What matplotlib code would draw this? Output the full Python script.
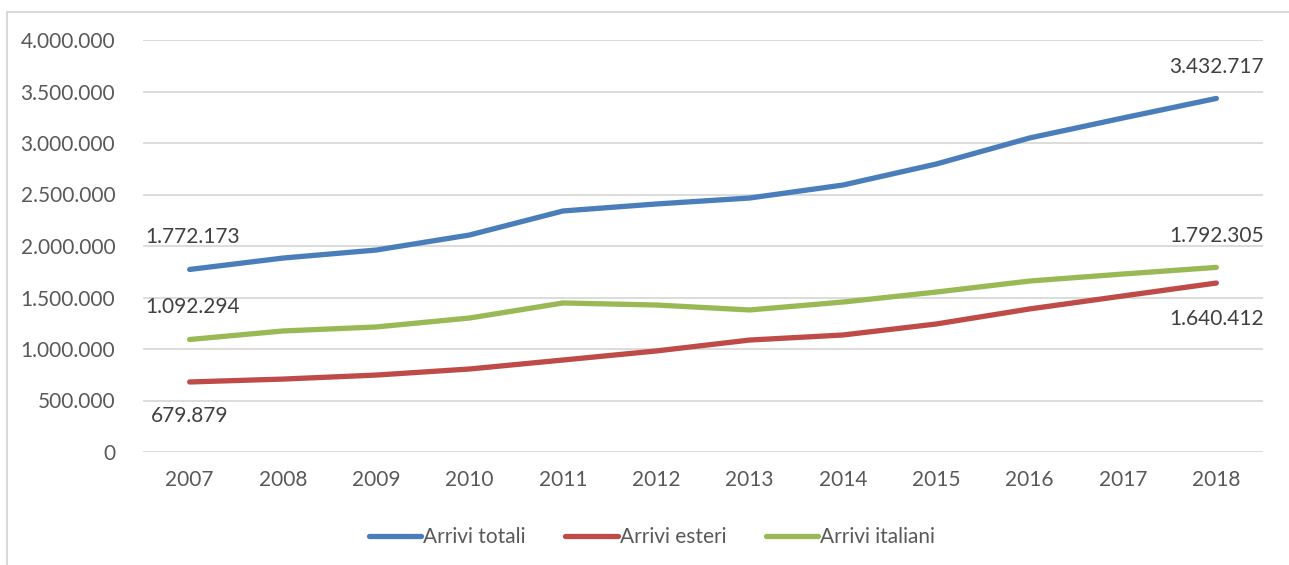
import matplotlib.pyplot as plt
from matplotlib.patches import Rectangle
from matplotlib.ticker import FuncFormatter

plt.rcParams['font.family'] = ['Lato', 'DejaVu Sans']

# Arrivi turistici per anno
anni = [2007, 2008, 2009, 2010, 2011, 2012, 2013, 2014, 2015, 2016, 2017, 2018]
arrivi_totali = [1772173, 1883000, 1961000, 2107000, 2340000, 2408000,
                 2466000, 2592000, 2796000, 3049000, 3243000, 3432717]
arrivi_esteri = [679879, 708000, 747000, 806000, 893000, 981000,
                 1087000, 1136000, 1243000, 1389000, 1515000, 1640412]
arrivi_italiani = [1092294, 1175000, 1214000, 1301000, 1447000, 1427000,
                   1379000, 1456000, 1553000, 1660000, 1728000, 1792305]


def fmt_it(v, pos=None):
    return f"{int(round(v)):,}".replace(",", ".")


fig = plt.figure(figsize=(12.89, 5.65), dpi=100)
fig.patches.append(Rectangle((7 / 1289, -0.1), 1.2, 1.1 - 12 / 565,
                             transform=fig.transFigure, fill=False,
                             edgecolor="#d9d9d9", linewidth=1.5))

ax = fig.add_axes([143 / 1289, 1 - 452 / 565, (1263 - 143) / 1289, 412 / 565])

series = [
    (arrivi_totali, "Arrivi totali", "#4a7ebb"),
    (arrivi_esteri, "Arrivi esteri", "#be4b48"),
    (arrivi_italiani, "Arrivi italiani", "#98b954"),
]
for vals, nome, col in series:
    ax.plot(anni, vals, color=col, linewidth=3.8, solid_capstyle="round", label=nome)

# etichette dei valori al primo e ultimo anno
lab = dict(fontsize=15, color="#404040", ha="center", va="center",
           textcoords="offset pixels")
ax.annotate(fmt_it(arrivi_totali[0]), (anni[0], arrivi_totali[0]), xytext=(3, 32), **lab)
ax.annotate(fmt_it(arrivi_italiani[0]), (anni[0], arrivi_italiani[0]), xytext=(3, 32), **lab)
ax.annotate(fmt_it(arrivi_esteri[0]), (anni[0], arrivi_esteri[0]), xytext=(0, -34), **lab)
ax.annotate(fmt_it(arrivi_totali[-1]), (anni[-1], arrivi_totali[-1]), xytext=(0, 31), **lab)
ax.annotate(fmt_it(arrivi_italiani[-1]), (anni[-1], arrivi_italiani[-1]), xytext=(0, 31), **lab)
ax.annotate(fmt_it(arrivi_esteri[-1]), (anni[-1], arrivi_esteri[-1]), xytext=(0, -36), **lab)

ax.set_xlim(2006.5, 2018.5)
ax.set_ylim(0, 4000000)
ax.set_yticks(range(0, 4000001, 500000))
ax.yaxis.set_major_formatter(FuncFormatter(fmt_it))
ax.set_xticks(anni)
ax.set_xticklabels([str(a) for a in anni])
ax.grid(axis="y", color="#d9d9d9", linewidth=1.3)
ax.set_axisbelow(True)
for s in ax.spines.values():
    s.set_visible(False)
ax.tick_params(length=0, labelsize=15, labelcolor="#595959")
ax.tick_params(axis="y", pad=20)
ax.tick_params(axis="x", pad=13)

fig.legend(loc="center", bbox_to_anchor=(652 / 1289, 1 - 537 / 565), ncol=3,
           frameon=False, fontsize=15, labelcolor="#595959", handlelength=2.5,
           handletextpad=0.1, columnspacing=1.9)

fig.savefig("out.png", dpi=100)
